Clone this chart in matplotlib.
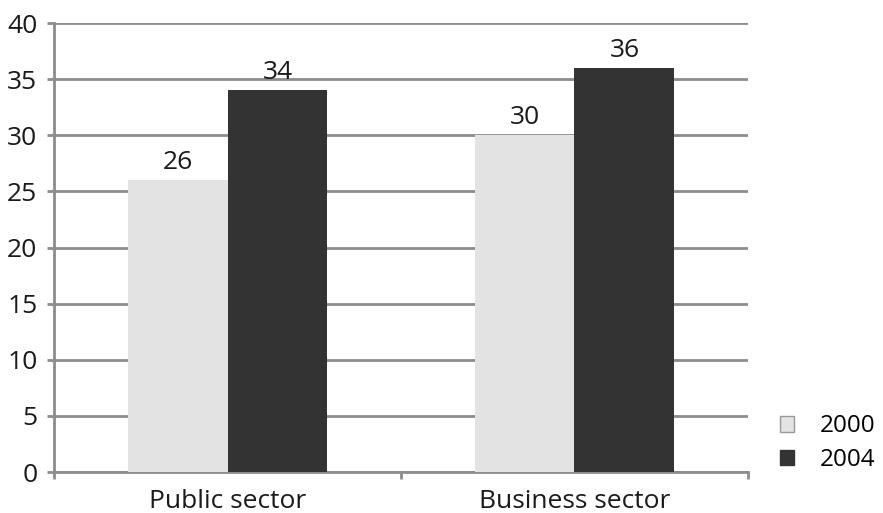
import numpy as np
import matplotlib.pyplot as plt
from matplotlib.patches import Patch

categories = ['Public sector', 'Business sector']
years = ['2000', '2004']
values_2000 = [26, 30]
values_2004 = [34, 36]

plt.rcParams['font.family'] = ['Open Sans', 'DejaVu Sans']

fig = plt.figure(figsize=(8.83, 5.13), dpi=100)
ax = fig.add_axes([0.0612, 0.0799, 0.7858, 0.875])

x = np.arange(len(categories))
bw = 0.288
light = '#e3e3e3'
dark = '#333333'
grid_c = '#8c8c8c'
txt_c = '#1a1a1a'
fs = 19

b1 = ax.bar(x - bw / 2, values_2000, bw, color=light, zorder=3)
b2 = ax.bar(x + bw / 2, values_2004, bw, color=dark, zorder=3)

for bars in (b1, b2):
    for rect in bars:
        ax.text(rect.get_x() + rect.get_width() / 2, rect.get_height() + 0.45,
                f'{int(rect.get_height())}', ha='center', va='bottom', fontsize=fs, color=txt_c)

ax.set_xlim(-0.5, 1.5)
ax.set_ylim(0, 40)
ax.set_yticks(range(0, 41, 5))
ax.yaxis.grid(True, color=grid_c, linewidth=2, zorder=0)
ax.set_axisbelow(True)

# boundary ticks between categories, names centred under each group
ax.set_xticks([-0.5, 0.5, 1.5])
ax.set_xticklabels([])
ax.set_xticks(x, minor=True)
ax.set_xticklabels(categories, minor=True, fontsize=fs, color=txt_c)
ax.tick_params(axis='x', which='minor', length=0, pad=12)
ax.tick_params(axis='x', which='major', length=5, width=2, color=grid_c)
ax.tick_params(axis='y', length=5, width=2, color=grid_c, labelsize=fs, labelcolor=txt_c, pad=7)

for s in ('top', 'right'):
    ax.spines[s].set_visible(False)
for s in ('left', 'bottom'):
    ax.spines[s].set_color(grid_c)
    ax.spines[s].set_linewidth(2)

handles = [Patch(facecolor=light, edgecolor='#999999', label=years[0]),
           Patch(facecolor=dark, edgecolor=dark, label=years[1])]
fig.legend(handles=handles, loc='center left', bbox_to_anchor=(0.883, 0.136),
           frameon=False, fontsize=17.5, handlelength=0.6, handleheight=0.6,
           handletextpad=1.05, labelspacing=0.4, borderpad=0, borderaxespad=0)

fig.savefig('out.png', dpi=100)
